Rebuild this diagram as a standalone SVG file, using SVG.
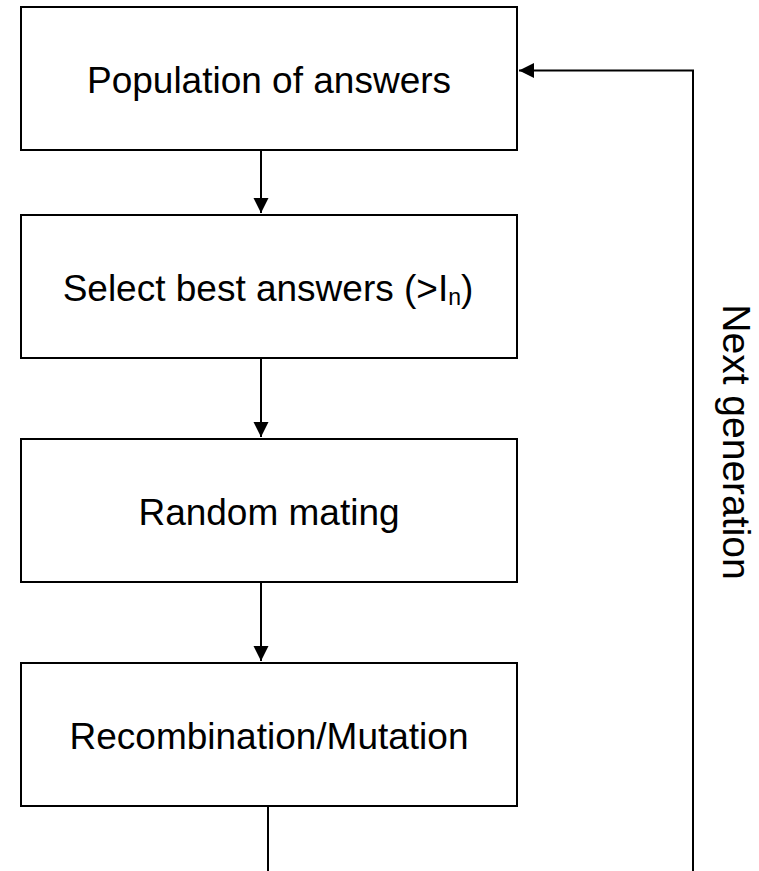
<svg xmlns="http://www.w3.org/2000/svg" width="759" height="871" viewBox="0 0 759 871">
<style>
.box{fill:#fff;stroke:#000;stroke-width:2}
.lbl{font-family:"Liberation Sans",Arial,sans-serif;font-size:37px;fill:#000;text-anchor:middle}
.con{fill:none;stroke:#000;stroke-width:2}
</style>
<defs>
<marker id="ah" markerUnits="userSpaceOnUse" markerWidth="16" markerHeight="16" viewBox="0 0 16 16" refX="15" refY="8" orient="auto">
<path d="M0,0.5 L15,8 L0,15.5 Z" fill="#000"/>
</marker>
</defs>
<rect width="759" height="871" fill="#fff"/>
<g id="connectors">
<line class="con" x1="261" y1="151" x2="261" y2="213" marker-end="url(#ah)"/>
<line class="con" x1="261" y1="359" x2="261" y2="437" marker-end="url(#ah)"/>
<line class="con" x1="261" y1="583" x2="261" y2="661" marker-end="url(#ah)"/>
<line class="con" x1="268" y1="807" x2="268" y2="871"/>
<polyline class="con" points="693,871 693,70.5 519,70.5" marker-end="url(#ah)"/>
</g>
<g id="node1">
<rect class="box" x="21" y="7" width="496" height="143"/>
<text class="lbl" x="269" y="93">Population of answers</text>
</g>
<g id="node2">
<rect class="box" x="21" y="215" width="496" height="143"/>
<text class="lbl" x="268" y="301">Select best answers (&gt;I<tspan font-size="23" dy="4">n</tspan><tspan dy="-4">)</tspan></text>
</g>
<g id="node3">
<rect class="box" x="21" y="439" width="496" height="143"/>
<text class="lbl" x="269" y="525">Random mating</text>
</g>
<g id="node4">
<rect class="box" x="21" y="663" width="496" height="143"/>
<text class="lbl" x="269" y="749">Recombination/Mutation</text>
</g>
<g id="label-next">
<text class="lbl" style="font-size:39px" x="723" y="442" transform="rotate(90 723 442)">Next generation</text>
</g>
</svg>
